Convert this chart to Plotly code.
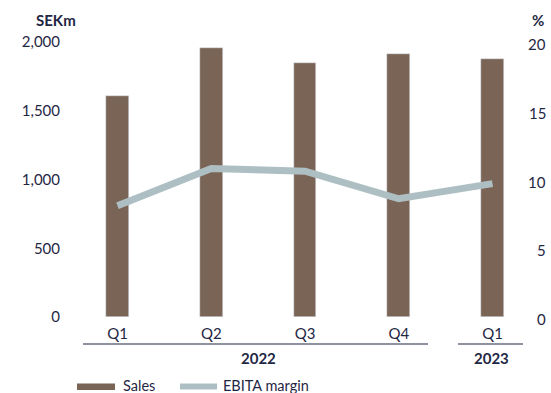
import plotly.graph_objects as go

quarters = ["Q1", "Q2", "Q3", "Q4", "Q1"]
years = ["2022", "2023"]
sales = [1610, 1955, 1845, 1910, 1880]
ebita_margin = [8.1, 10.8, 10.6, 8.6, 9.7]
left_ticks = [0, 500, 1000, 1500, 2000]
right_ticks = [0, 5, 10, 15, 20]
legend_names = ["Sales", "EBITA margin"]

BAR = "#7a6455"
LINE = "#aebfc4"
TXT = "#1f2744"
FONT = "Lato"

xs = list(range(len(quarters)))
L, R, T, B = 72, 520, 42, 317
W, H = 551, 393
pw = R - L

fig = go.Figure()
fig.add_trace(go.Bar(x=xs, y=sales, width=0.245, marker_color=BAR, name=legend_names[0],
                     showlegend=False, yaxis="y"))
fig.add_trace(go.Scatter(x=xs, y=ebita_margin, mode="lines", line=dict(color=LINE, width=7),
                         name=legend_names[1], showlegend=False, yaxis="y2"))

x0px, step = 117.5, 93.75
xr = [(L - x0px) / step, (R - x0px) / step]

def px_x(p):
    return (p - L) / pw

def px_y(p):
    return (B - p) / (B - T)

shapes = [
    dict(type="line", xref="paper", yref="paper", x0=px_x(83), x1=px_x(428),
         y0=px_y(344), y1=px_y(344), line=dict(color=TXT, width=1.2)),
    dict(type="line", xref="paper", yref="paper", x0=px_x(458), x1=px_x(523),
         y0=px_y(344), y1=px_y(344), line=dict(color=TXT, width=1.2)),
    # legend swatches
    dict(type="rect", xref="paper", yref="paper", x0=px_x(77), x1=px_x(115),
         y0=px_y(383.5), y1=px_y(390), fillcolor=BAR, line=dict(width=0)),
    dict(type="rect", xref="paper", yref="paper", x0=px_x(180), x1=px_x(217),
         y0=px_y(383.5), y1=px_y(389.5), fillcolor=LINE, line=dict(width=0)),
]

def txt(s, xp, yp, xanchor="center", bold=False, yref="paper", y=None, size=15):
    return dict(text=f"<b>{s}</b>" if bold else s, xref="paper", yref=yref,
                x=px_x(xp), y=px_y(yp) if y is None else y,
                xanchor=xanchor, yanchor="middle", showarrow=False,
                font=dict(size=size, color=TXT, family=FONT))

ann = [
    txt(years[0], 258, 358, bold=True),
    txt(years[1], 491, 358, bold=True),
    txt("SEKm", 56, 20, bold=True),
    txt("%", 538, 20, bold=True),
    txt(legend_names[0], 121, 385, xanchor="left", size=14.5),
    txt(legend_names[1], 221, 385, xanchor="left", size=14.5),
]
for t in right_ticks:
    a = txt(str(t), 548, 0, xanchor="right", yref="y2", y=t)
    a["yshift"] = -2
    ann.append(a)

fig.update_layout(
    width=W, height=H,
    margin=dict(l=L, r=W - R, t=T, b=H - B),
    plot_bgcolor="white", paper_bgcolor="white",
    font=dict(family=FONT, color=TXT, size=15),
    xaxis=dict(range=xr, tickvals=xs, ticktext=quarters, showgrid=False, zeroline=False,
               showline=False, ticks="outside", ticklen=3, tickcolor="rgba(0,0,0,0)",
               tickfont=dict(size=15)),
    yaxis=dict(range=[0, 2000], tickvals=left_ticks, ticktext=[f"{v:,}" for v in left_ticks],
               showgrid=False, zeroline=False, ticks="outside", ticklen=8, tickcolor="rgba(0,0,0,0)",
               tickfont=dict(size=15)),
    yaxis2=dict(range=[0, 20], overlaying="y", side="right", showgrid=False, zeroline=False,
                showticklabels=False),
    showlegend=False,
    shapes=shapes, annotations=ann,
    bargap=0,
)

fig.write_html("out.html")
